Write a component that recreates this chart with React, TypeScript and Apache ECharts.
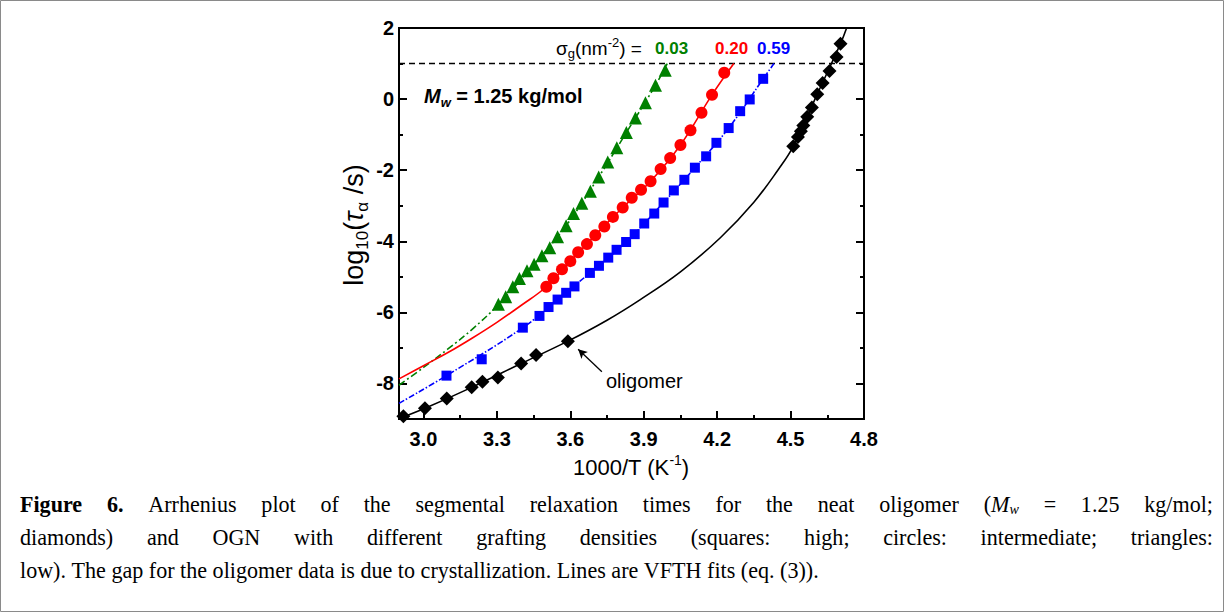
import React, { useEffect, useRef } from 'react';
import * as echarts from 'echarts';

// ---------- axis ticks ----------
const xTickLabels = [3.0, 3.3, 3.6, 3.9, 4.2, 4.5, 4.8];
const xMinorTicks = [3.15, 3.45, 3.75, 4.05, 4.35, 4.65];
const yTickLabels = [-8, -6, -4, -2, 0, 2];
const yMinorTicks = [-7, -5, -3, -1, 1];

// ---------- data: oligomer (diamonds) ----------
const olgX = [2.918, 3.006, 3.095, 3.197, 3.241, 3.304, 3.399, 3.46, 3.59, 4.511, 4.53, 4.542, 4.552, 4.568, 4.587, 4.609, 4.631, 4.659, 4.688, 4.704];
const olgY = [-8.92, -8.7, -8.42, -8.11, -7.955, -7.83, -7.44, -7.2, -6.81, -1.33, -1.065, -0.905, -0.745, -0.5, -0.24, 0.136, 0.45, 0.79, 1.185, 1.56];
// VFTH fit
const olgFitX = [2.9, 3.006, 3.197, 3.399, 3.59, 3.75, 3.886, 4.05, 4.213, 4.35, 4.45, 4.511, 4.609, 4.704, 4.729];
const olgFitY = [-8.99, -8.7, -8.11, -7.44, -6.81, -6.22, -5.64, -4.86, -3.9, -2.9, -1.98, -1.33, 0.14, 1.56, 2.0];

// ---------- sigma 0.03 (triangles) ----------
const triX = [3.306, 3.336, 3.365, 3.392, 3.423, 3.452, 3.484, 3.516, 3.548, 3.583, 3.613, 3.647, 3.682, 3.716, 3.753, 3.79, 3.829, 3.866, 3.907, 3.948, 3.988];
const triY = [-5.77, -5.56, -5.28, -5.05, -4.83, -4.645, -4.41, -4.18, -3.87, -3.56, -3.22, -2.93, -2.59, -2.19, -1.77, -1.37, -0.94, -0.53, -0.1, 0.39, 0.81];
const triFitX = [2.9, 3.0, 3.1, 3.2, 3.306, 3.452, 3.583, 3.716, 3.829, 3.948, 3.996];
const triFitY = [-8.05, -7.55, -7.03, -6.47, -5.78, -4.65, -3.56, -2.19, -0.94, 0.39, 1.0];

// ---------- sigma 0.20 (circles) ----------
const cirX = [3.502, 3.531, 3.566, 3.6, 3.632, 3.668, 3.702, 3.739, 3.774, 3.814, 3.851, 3.889, 3.928, 3.969, 4.008, 4.05, 4.091, 4.136, 4.179, 4.229];
const cirY = [-5.28, -5.04, -4.79, -4.56, -4.31, -4.08, -3.83, -3.585, -3.315, -3.05, -2.775, -2.55, -2.31, -1.97, -1.66, -1.29, -0.88, -0.385, 0.12, 0.74];
const cirFitX = [2.9, 3.0, 3.1, 3.2, 3.3, 3.4, 3.502, 3.6, 3.702, 3.814, 3.928, 4.05, 4.179, 4.268];
const cirFitY = [-7.87, -7.5, -7.13, -6.72, -6.28, -5.8, -5.28, -4.56, -3.83, -3.05, -2.31, -1.29, 0.12, 1.0];

// ---------- sigma 0.59 (squares) ----------
const sqX = [3.094, 3.238, 3.406, 3.474, 3.511, 3.548, 3.583, 3.617, 3.68, 3.717, 3.755, 3.789, 3.828, 3.863, 3.902, 3.943, 3.981, 4.023, 4.066, 4.109, 4.155, 4.197, 4.247, 4.294, 4.333, 4.388];
const sqY = [-7.78, -7.32, -6.43, -6.1, -5.85, -5.64, -5.45, -5.27, -4.89, -4.69, -4.46, -4.24, -4.02, -3.8, -3.5, -3.22, -2.91, -2.57, -2.27, -1.93, -1.61, -1.23, -0.815, -0.34, -0.01, 0.57];
const sqFitX = [2.9, 3.094, 3.406, 3.548, 3.68, 3.828, 3.981, 4.109, 4.247, 4.388, 4.432];
const sqFitY = [-8.56, -7.78, -6.43, -5.64, -4.89, -4.02, -2.91, -1.93, -0.815, 0.57, 1.0];

// dashed reference level and arrow annotation (data units)
const refLevel = 1;
const arrowFrom = [3.729, -7.67];
const arrowTo = [3.632, -7.04];

// ---------- caption ----------
type Run = { t: string; b?: boolean; i?: boolean; sub?: boolean };
type Word = Run[];
const w = (s: string): Word => [{ t: s }];
const words = (s: string): Word[] => s.split(' ').map(w);
const captionLine1: Word[] = [
  [{ t: 'Figure', b: true }],
  [{ t: '6.', b: true }],
  ...words('Arrhenius plot of the segmental relaxation times for the neat oligomer'),
  [{ t: '(' }, { t: 'M', i: true }, { t: 'w', i: true, sub: true }],
  ...words('= 1.25 kg/mol;'),
];
const captionLine2: Word[] = words('diamonds) and OGN with different grafting densities (squares: high; circles: intermediate; triangles:');
const captionLine3: Word[] = words('low). The gap for the oligomer data is due to crystallization. Lines are VFTH fits (eq. (3)).');

const zip = (xs: number[], ys: number[]) => xs.map((x, k) => [x, ys[k]]);

const SANS = 'Liberation Sans';
const SERIF = 'Liberation Serif';

function buildCaption(): any[] {
  const canvas = document.createElement('canvas');
  const ctx = canvas.getContext('2d')!;
  const size = 23.5;
  const subSize = 15;
  const sx = 0.94; // condensed look of the original caption font
  const fontOf = (r: Run) => `${r.i ? 'italic ' : ''}${r.b ? 'bold ' : ''}${r.sub ? subSize : size}px "${SERIF}"`;
  const measure = (r: Run) => {
    ctx.font = fontOf(r);
    return ctx.measureText(r.t).width * sx;
  };
  ctx.font = `${size}px "${SERIF}"`;
  const spaceW = ctx.measureText(' ').width * sx;
  const L = 20;
  const R = 1213;
  const lines: [Word[], number, boolean][] = [
    [captionLine1, 504, true],
    [captionLine2, 537, true],
    [captionLine3, 570, false],
  ];
  const els: any[] = [];
  lines.forEach(([ws, y, justify]) => {
    const widths = ws.map((wd) => wd.reduce((s, r) => s + measure(r), 0));
    const total = widths.reduce((a, b) => a + b, 0);
    const gap = justify ? (R - L - total) / (ws.length - 1) : spaceW;
    let x = L;
    ws.forEach((wd, k) => {
      let rx = x;
      wd.forEach((r) => {
        els.push({
          type: 'text',
          x: rx,
          y: y + (r.sub ? 5 : 0),
          scaleX: sx,
          silent: true,
          style: {
            text: r.t,
            fontFamily: SERIF,
            fontSize: r.sub ? subSize : size,
            fontWeight: r.b ? 'bold' : 'normal',
            fontStyle: r.i ? 'italic' : 'normal',
            fill: '#000',
            align: 'left',
            verticalAlign: 'middle',
            textAlign: 'left',
            textVerticalAlign: 'middle',
          },
        });
        rx += measure(r);
      });
      x += widths[k] + gap;
    });
  });
  return els;
}

function txt(x: number, y: number, text: string, rich: any, extra: any = {}, fontSize = 16) {
  return {
    type: 'text',
    x,
    y,
    silent: true,
    rotation: extra.rotation || 0,
    style: {
      text,
      rich,
      fontFamily: SANS,
      fontSize,
      fill: '#000',
      align: extra.align || 'left',
      verticalAlign: 'middle',
      textAlign: extra.align || 'left',
      textVerticalAlign: 'middle',
    },
  };
}

export default function App() {
  const ref = useRef<HTMLDivElement>(null);
  useEffect(() => {
    if (!ref.current) return;
    const chart = echarts.init(ref.current, undefined, { renderer: 'svg' });

    const tickLabel = { fontFamily: SANS, fontSize: 20, fontWeight: 'bold', color: '#000' };
    const majorTick = { show: true, inside: true, length: 8, lineStyle: { color: '#000', width: 2 } };
    const minorTick = { show: true, inside: true, length: 4, lineStyle: { color: '#000', width: 2 } };

    const xBase = { type: 'value', min: 2.9, max: 4.8, splitLine: { show: false }, axisLine: { show: false, onZero: false } };
    const yBase = { type: 'value', min: -9, max: 2, splitLine: { show: false }, axisLine: { show: false, onZero: false } };

    const fitLine = (name: string, data: number[][], color: string, type: any) => ({
      name,
      type: 'line',
      data,
      showSymbol: false,
      symbol: 'none',
      smooth: 0.4,
      lineStyle: { color, width: 1.6, type },
      z: 2,
      silent: true,
    });
    const scat = (name: string, data: number[][], color: string, symbol: string, size: number) => ({
      name,
      type: 'scatter',
      data,
      symbol,
      symbolSize: size,
      itemStyle: { color, opacity: 1 },
      z: 3,
      silent: true,
    });

    const sigRich = {
      n: { fontFamily: SANS, fontSize: 19, lineHeight: 24, verticalAlign: 'middle', fill: '#000', color: '#000' },
      sub: { fontFamily: SANS, fontSize: 13, lineHeight: 13, verticalAlign: 'bottom', fill: '#000', color: '#000' },
      sup: { fontFamily: SANS, fontSize: 13, lineHeight: 13, verticalAlign: 'top', fill: '#000', color: '#000' },
    };
    const valRich = (c: string) => ({
      v: { fontFamily: SANS, fontSize: 17, fontWeight: 'bold', fill: c, color: c },
    });
    const mwRich = {
      m: { fontFamily: SANS, fontSize: 20, fontWeight: 'bold', fontStyle: 'italic', lineHeight: 26, verticalAlign: 'middle', fill: '#000', color: '#000' },
      s: { fontFamily: SANS, fontSize: 13, fontWeight: 'bold', fontStyle: 'italic', lineHeight: 13, verticalAlign: 'bottom', fill: '#000', color: '#000' },
      b: { fontFamily: SANS, fontSize: 20, fontWeight: 'bold', lineHeight: 26, verticalAlign: 'middle', fill: '#000', color: '#000' },
    };
    const yTitleRich = {
      n: { fontFamily: SANS, fontSize: 27, lineHeight: 33, verticalAlign: 'middle', fill: '#000', color: '#000' },
      t: { fontFamily: SANS, fontSize: 27, fontStyle: 'italic', lineHeight: 33, verticalAlign: 'middle', fill: '#000', color: '#000' },
      s: { fontFamily: SANS, fontSize: 17, lineHeight: 17, verticalAlign: 'bottom', fill: '#000', color: '#000' },
    };
    const xTitleRich = {
      n: { fontFamily: SANS, fontSize: 22, lineHeight: 28, verticalAlign: 'middle', fill: '#000', color: '#000' },
      sup: { fontFamily: SANS, fontSize: 14, lineHeight: 14, verticalAlign: 'top', fill: '#000', color: '#000' },
    };
    const plainRich = {
      p: { fontFamily: SANS, fontSize: 20, fill: '#000', color: '#000' },
    };

    const option: any = {
      animation: false,
      backgroundColor: '#fff',
      grid: { left: 399, top: 28, width: 465, height: 391, show: true, borderColor: '#000', borderWidth: 2, backgroundColor: 'transparent' },
      xAxis: [
        {
          ...xBase,
          position: 'bottom',
          axisTick: { ...majorTick, customValues: xTickLabels },
          axisLabel: { ...tickLabel, margin: 10, customValues: xTickLabels, formatter: (v: number) => v.toFixed(1) },
        },
        {
          ...xBase,
          position: 'bottom',
          axisTick: { ...minorTick, customValues: xMinorTicks },
          axisLabel: { show: false },
        },
      ],
      yAxis: [
        {
          ...yBase,
          position: 'left',
          axisTick: { ...majorTick, customValues: yTickLabels },
          axisLabel: { ...tickLabel, margin: 5, customValues: yTickLabels, formatter: (v: number) => String(v) },
        },
        { ...yBase, position: 'left', axisTick: { ...minorTick, customValues: yMinorTicks }, axisLabel: { show: false } },
        { ...yBase, position: 'right', axisTick: { ...majorTick, customValues: yTickLabels }, axisLabel: { show: false } },
        { ...yBase, position: 'right', axisTick: { ...minorTick, customValues: yMinorTicks }, axisLabel: { show: false } },
      ],
      series: [
        {
          name: 'ref',
          type: 'line',
          data: [[2.9, refLevel], [4.8, refLevel]],
          showSymbol: false,
          symbol: 'none',
          lineStyle: { color: '#000', width: 1.6, type: [6, 4] },
          z: 1,
          silent: true,
        },
        fitLine('fit 0.03', zip(triFitX, triFitY), '#008000', [7, 3, 2, 3]),
        fitLine('fit 0.20', zip(cirFitX, cirFitY), '#ff0000', 'solid'),
        fitLine('fit 0.59', zip(sqFitX, sqFitY), '#0000ff', [6, 2, 1.5, 2]),
        fitLine('fit oligomer', zip(olgFitX, olgFitY), '#000', 'solid'),
        scat('0.03', zip(triX, triY), '#008000', 'triangle', 13),
        scat('0.20', zip(cirX, cirY), '#ff0000', 'circle', 12),
        scat('0.59', zip(sqX, sqY), '#0000ff', 'rect', 10),
        {
          ...scat('oligomer', zip(olgX, olgY), '#000', 'diamond', 14),
          markLine: {
            silent: true,
            symbol: ['none', 'arrow'],
            symbolSize: [7, 9],
            label: { show: false },
            lineStyle: { color: '#000', width: 1.3, type: 'solid' },
            data: [[{ coord: arrowFrom }, { coord: arrowTo }]],
          },
        },
      ],
      graphic: [
        { type: 'rect', silent: true, shape: { x: 0.5, y: 0.5, width: 1223, height: 611 }, style: { fill: 'none', stroke: '#8a8a8a', lineWidth: 1 } },
        txt(354, 225, '{n|log}{s|10}{n|(}{t|τ}{s|α}{n| /s)}', yTitleRich, { rotation: Math.PI / 2, align: 'center' }),
        txt(631, 467, '{n|1000/T (K}{sup|-1}{n|)}', xTitleRich, { align: 'center' }),
        txt(556, 48, '{n|σ}{sub|g}{n|(nm}{sup|-2}{n|) =}', sigRich),
        txt(655, 48, '{v|0.03}', valRich('#008000')),
        txt(715, 48, '{v|0.20}', valRich('#ff0000')),
        txt(757, 48, '{v|0.59}', valRich('#0000ff')),
        txt(424, 96, '{m|M}{s|w}{b| = 1.25 kg/mol}', mwRich),
        txt(606, 381, '{p|oligomer}', plainRich, {}, 20),
        ...buildCaption(),
      ],
    };
    chart.setOption(option);
    return () => chart.dispose();
  }, []);
  return <div ref={ref} style={{ position: 'absolute', left: 0, top: 0, width: 1225, height: 613, background: '#fff' }} />;
}
